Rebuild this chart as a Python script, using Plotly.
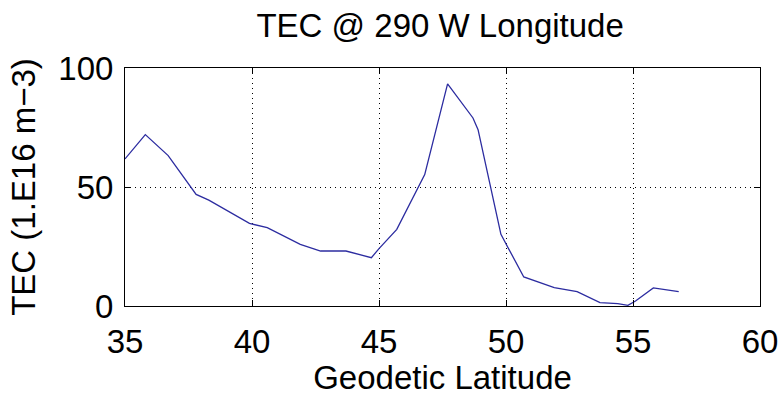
import plotly.graph_objects as go

# Total electron content along the 290 W meridian
latitude = [35.0, 35.8, 36.7, 37.8, 38.3, 39.9, 40.6, 41.9, 42.7, 43.7, 44.7, 45.0,
            45.7, 46.8, 47.7, 48.7, 48.9, 49.8, 50.7, 51.9, 52.8, 53.7, 54.4, 54.8,
            55.1, 55.8, 56.8]
tec = [61.8, 72.0, 63.2, 46.9, 44.5, 34.7, 32.9, 25.9, 23.1, 23.1, 20.3, 24.1,
       32.2, 55.2, 93.3, 79.0, 74.1, 30.1, 12.2, 7.7, 6.0, 1.4, 1.0, 0.3,
       2.1, 7.6, 6.0]

x_ticks = [35, 40, 45, 50, 55, 60]
y_ticks = [0, 50, 100]

FONT = "Liberation Sans, Arial, Helvetica, sans-serif"

fig = go.Figure()
fig.add_trace(go.Scatter(
    x=latitude, y=tec, mode="lines",
    line=dict(color="#2c2ca0", width=1.3),
    showlegend=False, hoverinfo="skip",
))

axis_common = dict(
    showline=True, linecolor="black", linewidth=1, mirror="ticks",
    ticks="inside", ticklen=6, tickcolor="black", tickwidth=1,
    showgrid=True, gridcolor="black", gridwidth=1, griddash="1px,4px",
    zeroline=False, automargin=False,
    tickfont=dict(family=FONT, size=33, color="black"),
)

fig.update_xaxes(
    range=[35, 60], tickvals=x_ticks, ticktext=[str(v) for v in x_ticks],
    title=dict(text="Geodetic Latitude", font=dict(family=FONT, size=33, color="black"),
               standoff=14),
    ticklabelstandoff=6,
    **axis_common,
)
fig.update_yaxes(
    range=[0, 100], tickvals=y_ticks, ticktext=[str(v) for v in y_ticks],
    title=dict(text="TEC (1.E16 m\u22123)", font=dict(family=FONT, size=33, color="black"),
               standoff=12),
    ticklabelstandoff=4,
    **axis_common,
)

fig.update_layout(
    width=779, height=396,
    margin=dict(l=125, r=19, t=68, b=90),
    paper_bgcolor="white", plot_bgcolor="white",
    title=dict(text="TEC @ 290 W Longitude", x=0.565, xanchor="center",
               y=0.965, yanchor="top",
               font=dict(family=FONT, size=33, color="black")),
)

fig.write_html("out.html")
